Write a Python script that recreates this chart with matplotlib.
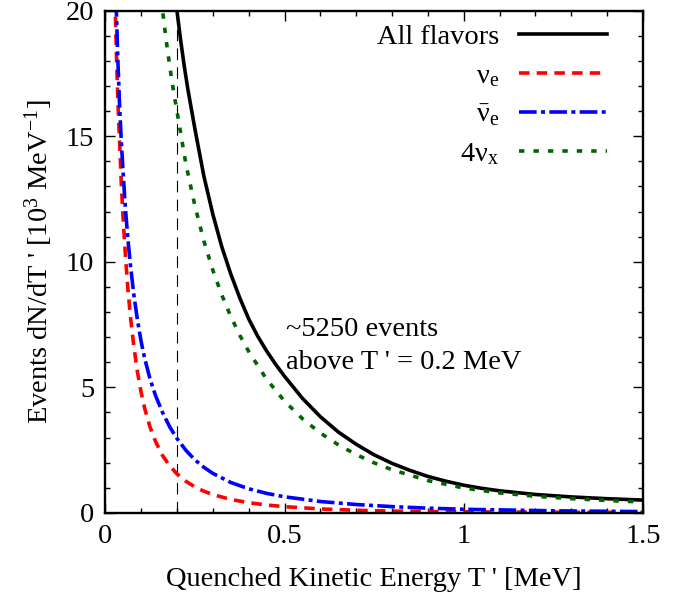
import matplotlib
matplotlib.use("Agg")
import matplotlib.pyplot as plt
from matplotlib.ticker import MultipleLocator

plt.rcParams['font.family'] = ['Liberation Serif', 'DejaVu Serif']
plt.rcParams['mathtext.fontset'] = 'custom'
plt.rcParams['mathtext.rm'] = 'Liberation Serif'
plt.rcParams['mathtext.it'] = 'Liberation Serif:italic'
plt.rcParams['font.size'] = 20.5

# values (T' in MeV, events in 10^3 / MeV)
t_all = [0.19, 0.20, 0.21, 0.22, 0.23, 0.25, 0.275, 0.30, 0.325, 0.35, 0.375,
         0.40, 0.425, 0.45, 0.475, 0.50, 0.55, 0.60, 0.65, 0.70, 0.75, 0.80,
         0.85, 0.90, 0.95, 1.00, 1.05, 1.10, 1.20, 1.30, 1.40, 1.50]
y_all = [21.3, 20.0, 18.86, 17.83, 16.91, 15.3, 13.42, 11.9, 10.6, 9.52, 8.57,
         7.73, 7.04, 6.45, 5.92, 5.44, 4.56, 3.83, 3.22, 2.73, 2.31, 1.97,
         1.69, 1.45, 1.26, 1.10, 0.976, 0.877, 0.73, 0.633, 0.562, 0.507]

t_nue = [0.025, 0.028, 0.032, 0.036, 0.040, 0.045, 0.050, 0.056, 0.063, 0.070,
         0.080, 0.090, 0.100, 0.110, 0.125, 0.140, 0.160, 0.180, 0.200, 0.225,
         0.250, 0.275, 0.300, 0.350, 0.400, 0.450, 0.500, 0.600, 0.700, 0.800,
         1.00, 1.25, 1.50]
y_nue = [21.5, 20.0, 17.86, 16.15, 14.77, 13.05, 11.69, 10.32, 8.96, 7.85,
         6.60, 5.60, 4.80, 4.16, 3.41, 2.85, 2.28, 1.87, 1.55, 1.256,
         1.033, 0.862, 0.727, 0.534, 0.404, 0.312, 0.245, 0.155, 0.102, 0.068,
         0.040, 0.025, 0.017]

t_nuebar = [0.028, 0.031, 0.035, 0.040, 0.045, 0.050, 0.056, 0.063, 0.070,
            0.080, 0.090, 0.100, 0.110, 0.125, 0.140, 0.160, 0.180, 0.200,
            0.225, 0.250, 0.275, 0.300, 0.350, 0.400, 0.450, 0.500, 0.600,
            0.700, 0.800, 0.900, 1.00, 1.25, 1.50]
y_nuebar = [21.5, 20.0, 18.1, 16.23, 14.73, 13.51, 12.17, 10.94, 9.90,
            8.66, 7.66, 6.83, 6.15, 5.33, 4.68, 3.99, 3.42, 2.96,
            2.49, 2.11, 1.815, 1.572, 1.21, 0.958, 0.775, 0.638, 0.451,
            0.331, 0.247, 0.186, 0.141, 0.08, 0.05]

t_nux = [0.15, 0.16, 0.17, 0.18, 0.19, 0.20, 0.225, 0.25, 0.275, 0.30, 0.325,
         0.35, 0.375, 0.40, 0.45, 0.50, 0.55, 0.60, 0.65, 0.70, 0.75, 0.80,
         0.90, 1.00, 1.10, 1.20, 1.30, 1.40, 1.50]
y_nux = [21.33, 20.0, 18.82, 17.78, 16.84, 16.0, 13.89, 12.24, 10.83, 9.67, 8.68,
         7.83, 7.08, 6.43, 5.32, 4.45, 3.75, 3.18, 2.71, 2.32, 1.99, 1.716,
         1.285, 0.987, 0.793, 0.66, 0.565, 0.491, 0.43]

threshold = 0.2

fig = plt.figure(figsize=(6.79, 5.97), dpi=100)
fig.subplots_adjust(left=0.155, right=0.947, top=0.982, bottom=0.141)
ax = fig.add_subplot(111)

lw = 2.6
ax.axvline(threshold, color='black', lw=0.8, dashes=(10.5, 6.5))
ax.plot(t_all, y_all, color='black', lw=lw, label='All flavors')
ax.plot(t_nue, y_nue, color='#ff0000', lw=lw, dashes=(2.9, 2.0),
        label=r'$\mathrm{\nu}_{\mathrm{e}}$')
ax.plot(t_nuebar, y_nuebar, color='#0000ff', lw=lw, dashes=(4.9, 1.2, 1.1, 1.2),
        label=r'$\bar{\mathrm{\nu}}_{\mathrm{e}}$')
ax.plot(t_nux, y_nux, color='#006400', lw=lw, dashes=(1.5, 2.5),
        label=r'$\mathrm{4\nu}_{\mathrm{x}}$')

ax.set_xlim(0, 1.5)
ax.set_ylim(0, 20)
ax.xaxis.set_major_locator(MultipleLocator(0.5))
ax.xaxis.set_minor_locator(MultipleLocator(0.1))
ax.yaxis.set_major_locator(MultipleLocator(5))
ax.yaxis.set_minor_locator(MultipleLocator(1))
ax.set_xticks([0, 0.5, 1, 1.5])
ax.set_xticklabels(['0', '0.5', '1', '1.5'])
ax.tick_params(which='both', direction='in', top=True, right=True, width=1.0)
ax.tick_params(which='major', length=7, pad=8)
ax.tick_params(which='minor', length=3.5)
for s in ax.spines.values():
    s.set_linewidth(1.7)

ax.set_xlabel("Quenched Kinetic Energy T ' [MeV]", labelpad=13)
ax.set_ylabel(r"Events dN/dT ' [10$^{3}$ MeV$^{-1}$]", labelpad=8)

ax.text(0.503, 7.8, "~5250 events\nabove T ' = 0.2 MeV", ha='left', va='top',
        linespacing=1.4)

ax.legend(loc='upper right', bbox_to_anchor=(607 / 679, 1 - 24 / 597),
          bbox_transform=fig.transFigure, frameon=False, markerfirst=False,
          handlelength=3.1, handletextpad=0.7, labelspacing=0.46,
          borderpad=0, borderaxespad=0)

fig.savefig('out.png', dpi=100)
